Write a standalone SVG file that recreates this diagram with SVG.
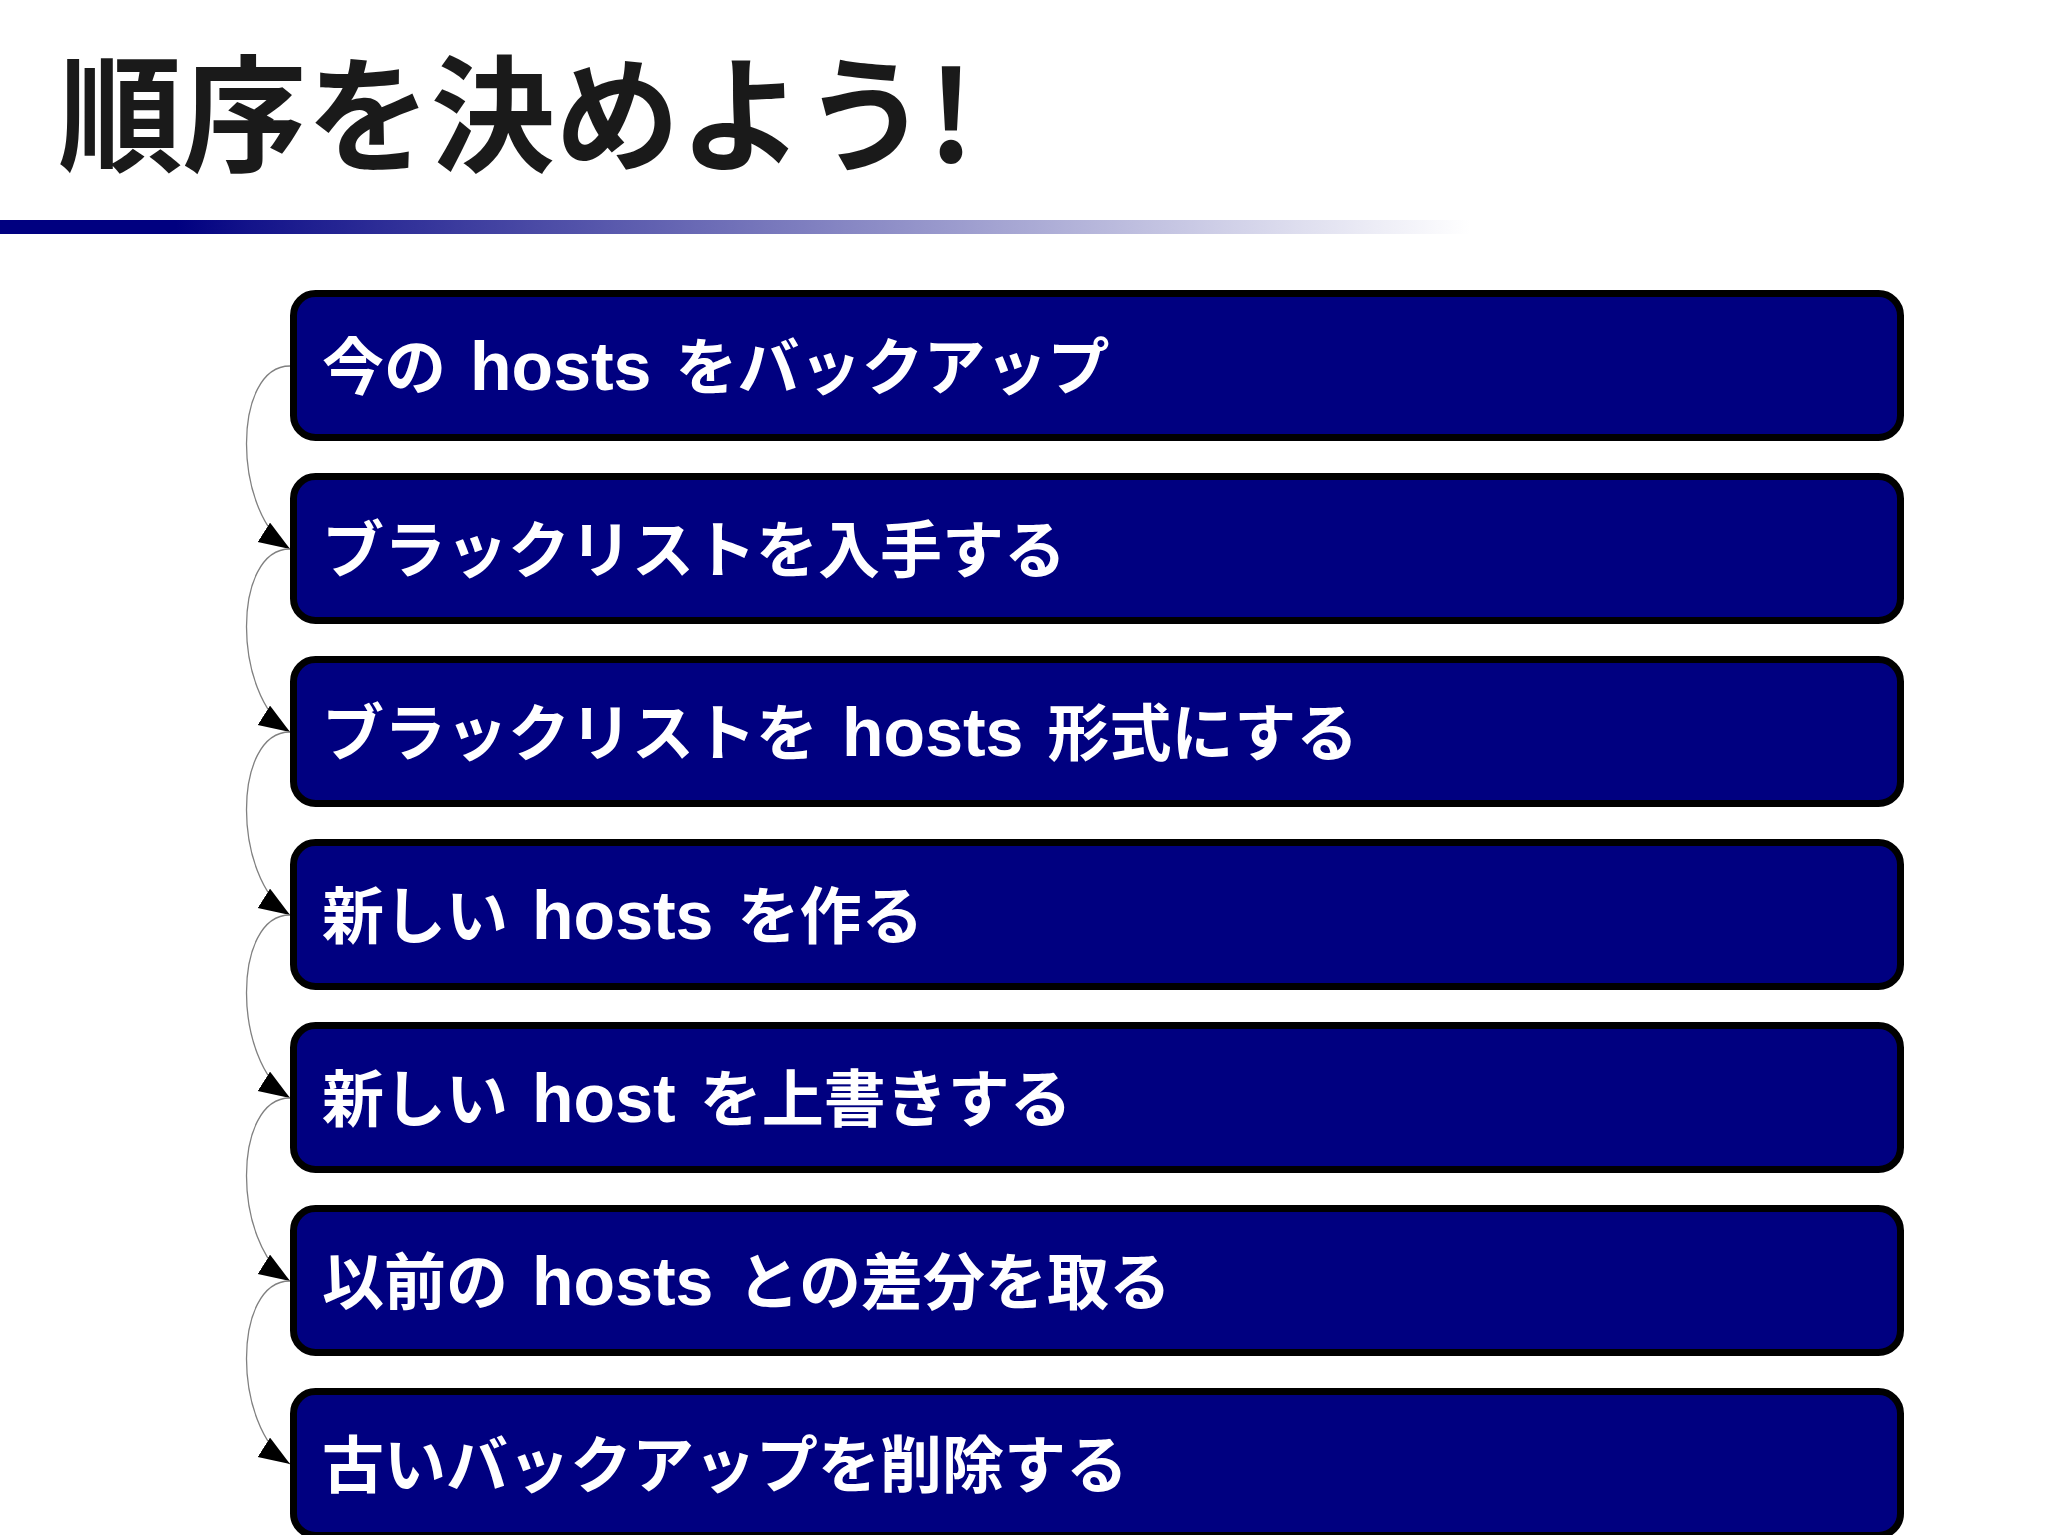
<svg xmlns="http://www.w3.org/2000/svg" width="2048" height="1535" viewBox="0 0 2048 1535">
<defs>
<style>
.box{fill:#000080;stroke:#000;stroke-width:7}
.lbl{fill:#fff;font-family:"Noto Sans CJK JP","Noto Sans",sans-serif;font-size:62px;font-weight:bold}
.lat{font-family:"Liberation Sans","Noto Sans CJK JP",sans-serif;font-size:68px;font-weight:bold}
.title{fill:#1a1a1a;font-family:"Noto Sans CJK JP","Noto Sans",sans-serif;font-size:126px;font-weight:bold}
.conn{fill:none;stroke:#808080;stroke-width:1.3;marker-end:url(#arr)}
</style>
<linearGradient id="bar" x1="0" y1="0" x2="1" y2="0">
<stop offset="0" stop-color="#000080"/>
<stop offset="0.12" stop-color="#000080"/>
<stop offset="0.17" stop-color="#13138a"/>
<stop offset="1" stop-color="#ffffff"/>
</linearGradient>
<marker id="arr" markerUnits="userSpaceOnUse" markerWidth="34" markerHeight="26" refX="31" refY="11.5" orient="auto">
<path d="M0,0 L31,11.5 L0,23 z" fill="#000"/>
</marker>
</defs>
<rect width="2048" height="1535" fill="#fff"/>
<text class="title" x="58" y="162" textLength="916" lengthAdjust="spacingAndGlyphs">順序を決めよう!</text>
<rect x="0" y="220" width="1470" height="14" fill="url(#bar)"/>
<g id="connectors">
<path class="conn" d="M290,366 C232,366 232,512 290,549"/>
<path class="conn" d="M290,549 C232,549 232,695 290,732"/>
<path class="conn" d="M290,732 C232,732 232,878 290,915"/>
<path class="conn" d="M290,915 C232,915 232,1061 290,1098"/>
<path class="conn" d="M290,1098 C232,1098 232,1244 290,1281"/>
<path class="conn" d="M290,1281 C232,1281 232,1427 290,1464"/>
</g>
<g id="n1"><rect class="box" x="293.5" y="293.5" width="1607" height="144" rx="22"/><text class="lbl" x="322" y="390">今の <tspan class="lat" dx="10">hosts</tspan><tspan dx="10"> をバックアップ</tspan></text></g>
<g id="n2"><rect class="box" x="293.5" y="476.5" width="1607" height="144" rx="22"/><text class="lbl" x="322" y="573">ブラックリストを入手する</text></g>
<g id="n3"><rect class="box" x="293.5" y="659.5" width="1607" height="144" rx="22"/><text class="lbl" x="322" y="756">ブラックリストを <tspan class="lat" dx="10">hosts</tspan><tspan dx="10"> 形式にする</tspan></text></g>
<g id="n4"><rect class="box" x="293.5" y="842.5" width="1607" height="144" rx="22"/><text class="lbl" x="322" y="939">新しい <tspan class="lat" dx="10">hosts</tspan><tspan dx="10"> を作る</tspan></text></g>
<g id="n5"><rect class="box" x="293.5" y="1025.5" width="1607" height="144" rx="22"/><text class="lbl" x="322" y="1122">新しい <tspan class="lat" dx="10">host</tspan><tspan dx="10"> を上書きする</tspan></text></g>
<g id="n6"><rect class="box" x="293.5" y="1208.5" width="1607" height="144" rx="22"/><text class="lbl" x="322" y="1305">以前の <tspan class="lat" dx="10">hosts</tspan><tspan dx="10"> との差分を取る</tspan></text></g>
<g id="n7"><rect class="box" x="293.5" y="1391.5" width="1607" height="144" rx="22"/><text class="lbl" x="322" y="1488">古いバックアップを削除する</text></g>
</svg>
